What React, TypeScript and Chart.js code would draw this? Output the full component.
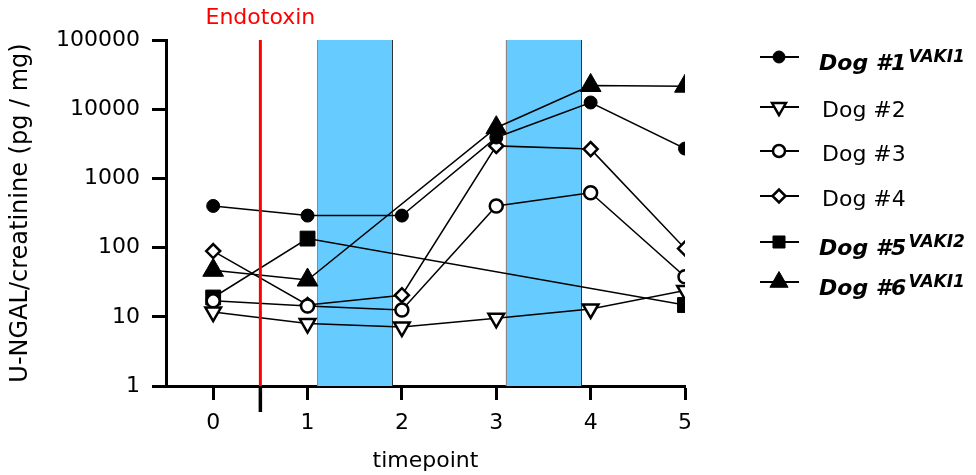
import React, { useEffect, useRef } from 'react';
import { Chart, registerables } from 'chart.js';
import { drawPoint } from 'chart.js/helpers';
Chart.register(...registerables);

const FONT = '"DejaVu Sans", Verdana, sans-serif';

const timepoints = [0, 1, 2, 3, 4, 5];
const xTicks = [0, 1, 2, 3, 4, 5];
const yTicks = [1, 10, 100, 1000, 10000, 100000];

const dog1 = [400, 290, 290, 3900, 12500, 2700];
const dog2 = [11.7, 8, 7.1, 9.5, 13, 24];
const dog3 = [17, 14.3, 12.5, 400, 620, 38];
const dog4 = [89, 14.8, 20.5, 2950, 2650, 97];
const dog5 = [19, 135, null, null, null, 14.8];
const dog6 = [47, 34, null, 5400, 22000, 21500];

const seriesNames = ['Dog #1', 'Dog #2', 'Dog #3', 'Dog #4', 'Dog #5', 'Dog #6'];
const seriesSup = ['VAKI1', '', '', '', 'VAKI2', 'VAKI1'];
const seriesValues = [dog1, dog2, dog3, dog4, dog5, dog6];

const endotoxinAt = 0.5;
const treatmentWindows = [
  [1.1, 1.9],
  [3.1, 3.9],
];

const markerStyles = [
  { pointStyle: 'circle', rotation: 0, radius: 6.5, legendRadius: 6, filled: true, borderWidth: 1 },
  { pointStyle: 'triangle', rotation: 180, radius: 9, legendRadius: 8, filled: false, borderWidth: 2.5 },
  { pointStyle: 'circle', rotation: 0, radius: 6.5, legendRadius: 6, filled: false, borderWidth: 2.5 },
  { pointStyle: 'rectRot', rotation: 0, radius: 7, legendRadius: 6.5, filled: false, borderWidth: 2.5 },
  { pointStyle: 'rect', rotation: 0, radius: 10.5, legendRadius: 8.5, filled: true, borderWidth: 1 },
  { pointStyle: 'triangle', rotation: 0, radius: 12, legendRadius: 10.5, filled: true, borderWidth: 1 },
];

const legendRowsY = [57, 107, 151, 196, 242, 282];

const annotationsPlugin = {
  id: 'annotations',
  beforeDatasetsDraw(chart: any) {
    const { ctx, chartArea } = chart;
    const xs = chart.scales.x;
    ctx.save();
    for (const [a, b] of treatmentWindows) {
      const x1 = xs.getPixelForValue(a);
      const x2 = xs.getPixelForValue(b);
      ctx.fillStyle = '#66CCFF';
      ctx.fillRect(x1, chartArea.top, x2 - x1, chartArea.bottom - chartArea.top);
      ctx.lineWidth = 1;
      ctx.strokeStyle = '#888888';
      ctx.beginPath();
      ctx.moveTo(Math.round(x1) + 0.5, chartArea.top);
      ctx.lineTo(Math.round(x1) + 0.5, chartArea.bottom);
      ctx.stroke();
      ctx.strokeStyle = '#333333';
      ctx.beginPath();
      ctx.moveTo(Math.round(x2) + 0.5, chartArea.top);
      ctx.lineTo(Math.round(x2) + 0.5, chartArea.bottom);
      ctx.stroke();
    }
    ctx.restore();
  },
  afterDatasetsDraw(chart: any) {
    const { ctx, chartArea } = chart;
    const xs = chart.scales.x;
    const xr = xs.getPixelForValue(endotoxinAt);
    ctx.save();
    ctx.strokeStyle = '#FF0000';
    ctx.lineWidth = 3;
    ctx.beginPath();
    ctx.moveTo(xr, chartArea.top);
    ctx.lineTo(xr, chartArea.bottom);
    ctx.stroke();
    ctx.strokeStyle = '#000';
    ctx.lineWidth = 3.5;
    ctx.beginPath();
    ctx.moveTo(xr, chartArea.bottom);
    ctx.lineTo(xr, chartArea.bottom + 26);
    ctx.stroke();
    ctx.fillStyle = '#FF0000';
    ctx.font = `22px ${FONT}`;
    ctx.textAlign = 'center';
    ctx.textBaseline = 'middle';
    ctx.fillText('Endotoxin', xr, chartArea.top - 22);
    ctx.restore();
  },
  afterDraw(chart: any) {
    const { ctx } = chart;
    ctx.save();
    seriesNames.forEach((name, i) => {
      const y = legendRowsY[i];
      const m = markerStyles[i];
      ctx.strokeStyle = '#000';
      ctx.lineWidth = 2;
      ctx.beginPath();
      ctx.moveTo(760, y);
      ctx.lineTo(799, y);
      ctx.stroke();
      ctx.fillStyle = m.filled ? '#000' : '#fff';
      ctx.strokeStyle = '#000';
      ctx.lineWidth = m.borderWidth;
      drawPoint(
        ctx,
        { pointStyle: m.pointStyle, rotation: m.rotation, radius: m.legendRadius, borderWidth: m.borderWidth } as any,
        779,
        y
      );
      ctx.fillStyle = '#000';
      ctx.textAlign = 'left';
      ctx.textBaseline = 'alphabetic';
      const sup = seriesSup[i];
      if (sup) {
        ctx.font = `italic bold 22px ${FONT}`;
        ctx.fillText(name, 819, y + 13);
        const w = ctx.measureText(name).width;
        ctx.font = `italic bold 17px ${FONT}`;
        ctx.fillText(sup, 819 + w + 2, y + 4.5);
      } else {
        ctx.font = `22px ${FONT}`;
        ctx.fillText(name, 822, y + 9.5);
      }
    });
    ctx.restore();
  },
};

export default function App() {
  const ref = useRef<HTMLCanvasElement | null>(null);
  useEffect(() => {
    document.body.style.margin = '0';
    const canvas = ref.current;
    if (!canvas) return;
    const datasets = seriesValues.map((vals, i) => {
      const m = markerStyles[i];
      return {
        label: seriesNames[i],
        data: timepoints
          .map((x, j) => ({ x, y: vals[j] }))
          .filter((p) => p.y !== null && p.y !== undefined),
        borderColor: '#000',
        borderWidth: 1.5,
        backgroundColor: '#000',
        pointStyle: m.pointStyle,
        pointRotation: m.rotation,
        pointRadius: m.radius,
        pointHoverRadius: m.radius,
        pointBackgroundColor: m.filled ? '#000' : '#fff',
        pointBorderColor: '#000',
        pointBorderWidth: m.borderWidth,
        showLine: true,
        fill: false,
        tension: 0,
      };
    });
    const chart = new Chart(canvas, {
      type: 'line',
      data: { datasets } as any,
      options: {
        animation: false,
        responsive: false,
        devicePixelRatio: 1,
        layout: { padding: { top: 40, right: 291, bottom: 0, left: 0 } },
        plugins: { legend: { display: false }, tooltip: { enabled: false } },
        events: [],
        scales: {
          x: {
            type: 'linear',
            min: -0.5,
            max: 5,
            afterBuildTicks: (s: any) => {
              s.ticks = xTicks.map((v) => ({ value: v }));
            },
            afterFit: (s: any) => {
              s.height = 89;
            },
            grid: { drawOnChartArea: false, drawTicks: true, tickLength: 14, tickWidth: 3, tickColor: '#000' },
            border: { display: true, color: '#000', width: 3 },
            ticks: {
              color: '#000',
              font: { family: FONT, size: 22 },
              padding: 10,
              maxRotation: 0,
              autoSkip: false,
              callback: (v: any) => String(v),
            },
            title: {
              display: true,
              text: 'timepoint',
              color: '#000',
              font: { family: FONT, size: 22 },
              padding: { top: 0, bottom: 1 },
            },
          },
          y: {
            type: 'logarithmic',
            min: 1,
            max: 100000,
            afterBuildTicks: (s: any) => {
              s.ticks = yTicks.map((v) => ({ value: v }));
            },
            afterFit: (s: any) => {
              s.width = 166;
            },
            grid: { drawOnChartArea: false, drawTicks: true, tickLength: 14, tickWidth: 3, tickColor: '#000' },
            border: { display: true, color: '#000', width: 3 },
            ticks: {
              color: '#000',
              font: { family: FONT, size: 22 },
              padding: 12,
              autoSkip: false,
              callback: (v: any) => String(v),
            },
            title: {
              display: true,
              text: 'U-NGAL/creatinine (pg / mg)',
              color: '#000',
              font: { family: FONT, size: 24 },
              padding: { top: 6, bottom: 0 },
            },
          },
        },
      } as any,
      plugins: [annotationsPlugin],
    });
    return () => chart.destroy();
  }, []);
  return (
    <div style={{ width: 976, height: 475 }}>
      <canvas ref={ref} width={976} height={475} style={{ display: 'block' }} />
    </div>
  );
}
